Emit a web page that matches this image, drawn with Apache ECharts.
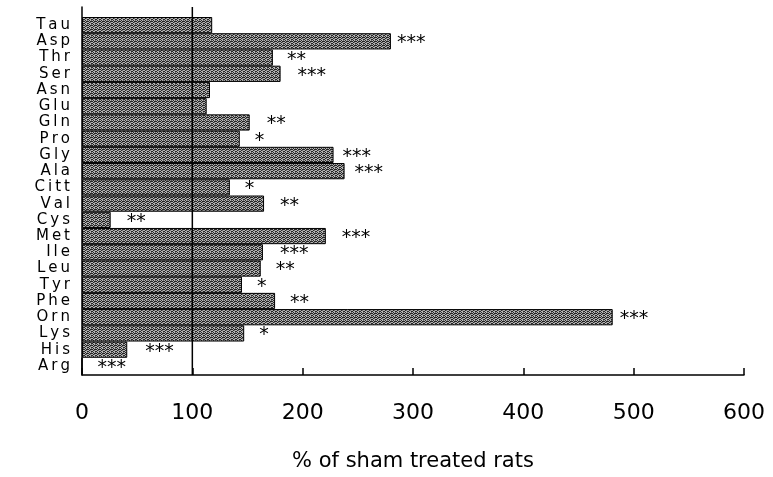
<!DOCTYPE html>
<html><head><meta charset="utf-8">
<script src="https://cdn.jsdelivr.net/npm/echarts@6/dist/echarts.min.js"></script>
<style>html,body{margin:0;padding:0;background:#fff}#c{width:773px;height:477px}</style>
</head><body><div id="c"></div>
<script>
// ---- data ----
const categories = ['Tau','Asp','Thr','Ser','Asn','Glu','Gln','Pro','Gly','Ala','Citt','Val','Cys','Met','Ile','Leu','Tyr','Phe','Orn','Lys','His','Arg'];
const percentOfSham = [118,280,173,180,116,113,152,143,228,238,134,165,26,221,164,162,145,175,481,147,41,0];
const significance = ['','***','**','***','','','**','*','***','***','*','**','**','***','***','**','*','**','***','*','***','***'];
const shamLevel = 100;
const axisName = '% of sham treated rats';

// ---- style ----
const starGap = [0,6,14,17,0,0,17,15,9,10,15,16,16,16,17,15,15,15,7,15,18,15];
const FONT = 'DejaVu Sans';

function stipple() {
  const c = document.createElement('canvas');
  c.width = 4; c.height = 4;
  const g = c.getContext('2d');
  g.fillStyle = '#262626'; g.fillRect(0,0,4,4);
  g.fillStyle = '#b4b4b4';
  [[0,0],[2,0],[1,1],[3,2],[0,2],[2,3],[1,3]].forEach(p => g.fillRect(p[0], p[1], 1, 1));
  g.fillStyle = '#6e6e6e';
  [[3,0],[2,2]].forEach(p => g.fillRect(p[0], p[1], 1, 1));
  return c;
}

const barData = percentOfSham.map((v, i) => ({
  value: v,
  label: { show: !!significance[i], formatter: significance[i], distance: starGap[i] }
}));

const chart = echarts.init(document.getElementById('c'));
chart.setOption({
  animation: false,
  grid: [
    { left: 82, right: 29, top: 7, bottom: 94 },
    { left: 82, right: 29, top: 17, bottom: 103 }
  ],
  xAxis: [
    { gridIndex: 0, type: 'value', min: 0, max: 600, interval: 100,
      axisLine: { show: true, lineStyle: { color: '#000', width: 1.5 } },
      axisTick: { show: true, inside: true, length: 7, lineStyle: { color: '#000', width: 1.5 } },
      splitLine: { show: false },
      axisLabel: { color: '#000', fontSize: 22, fontFamily: FONT, margin: 27 },
      name: axisName, nameLocation: 'middle', nameGap: 76,
      nameTextStyle: { color: '#000', fontSize: 21, fontFamily: FONT } },
    { gridIndex: 1, type: 'value', min: 0, max: 600, show: false }
  ],
  yAxis: [
    { gridIndex: 0, type: 'value', min: 0, max: 1,
      axisLine: { show: true, lineStyle: { color: '#000', width: 1.5 } },
      axisTick: { show: false }, axisLabel: { show: false }, splitLine: { show: false } },
    { gridIndex: 1, type: 'category', data: categories, inverse: true,
      axisLine: { show: false }, axisTick: { show: false }, splitLine: { show: false },
      axisLabel: { interval: 0, color: '#000', fontSize: 15, fontFamily: FONT, margin: 12,
        formatter: v => v.split('').join('\u2009') } }
  ],
  series: [
    { type: 'bar', xAxisIndex: 1, yAxisIndex: 1, data: barData,
      barCategoryGap: '0%',
      itemStyle: { color: { image: stipple(), repeat: 'repeat' }, borderColor: '#000', borderWidth: 1 },
      label: { position: 'right', color: '#000', fontSize: 19, fontFamily: FONT, offset: [0, 2] } },
    { type: 'line', xAxisIndex: 0, yAxisIndex: 0, data: [[shamLevel, 0], [shamLevel, 1]],
      symbol: 'none', lineStyle: { color: '#000', width: 1.5 }, silent: true }
  ]
});
</script></body></html>
